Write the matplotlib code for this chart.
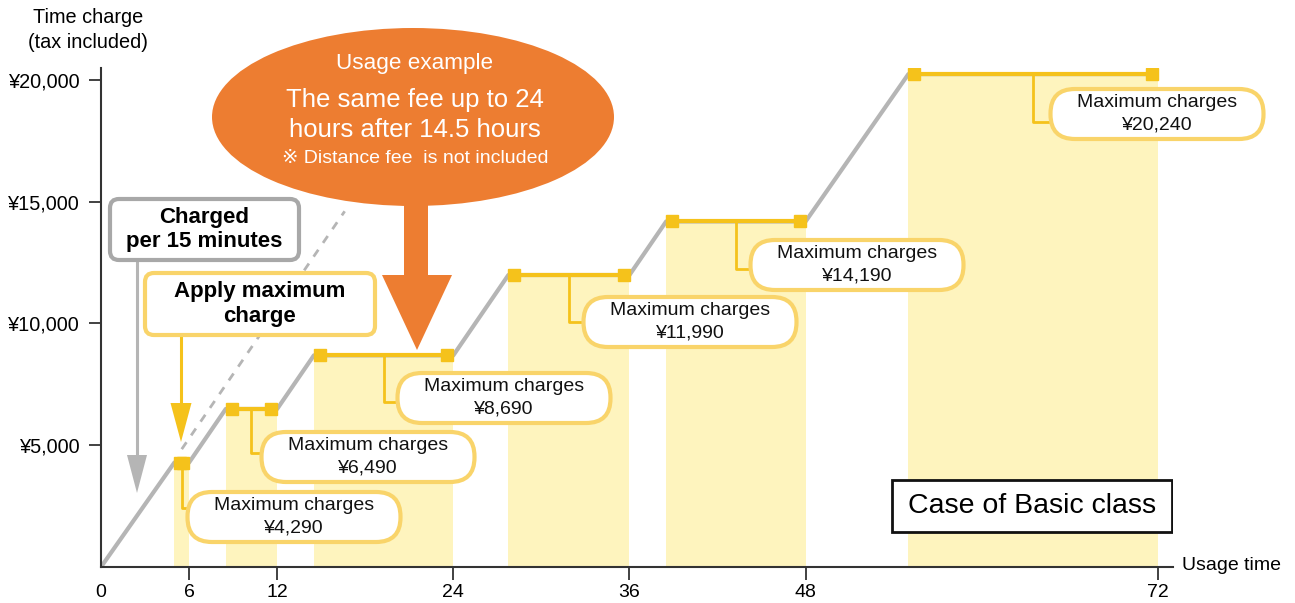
import matplotlib
matplotlib.use('Agg')
import matplotlib.pyplot as plt
from matplotlib.patches import FancyBboxPatch, Ellipse, Polygon, Rectangle
from matplotlib.transforms import ScaledTranslation

plt.rcParams['font.family'] = ['Liberation Sans', 'DejaVu Sans', 'Noto Sans CJK JP']

# ---------------- data ----------------
plateau_start_h = [5, 8.5, 14.5, 27.75, 38.5, 55]
plateau_end_h = [6, 12, 24, 36, 48, 72]
max_charges = [4290, 6490, 8690, 11990, 14190, 20240]
rate_per_hour = 880
dashed_hours = [5.5, 16.6]
x_ticks = [0, 6, 12, 24, 36, 48, 72]
x_tick_labels = ['0', '6', '12', '24', '36', '48', '72']
y_ticks = [5000, 10000, 15000, 20000]
y_tick_labels = ['¥5,000', '¥10,000', '¥15,000', '¥20,000']
box_labels = ['Maximum charges\n¥{:,}'.format(v) for v in max_charges]

# ---------------- layout (reference pixel positions of annotations) ----------------
box_center_px = [(294, 517), (368, 457), (504, 398), (690, 322), (857, 265), (1157, 114)]
elbow_py = [508, 453, 402, 322, 269, 122]
BOX_W, BOX_H = 213, 50

W, H = 1295, 603
GOLD = '#F5C21B'
BAND = '#FEF4BE'
BOXEDGE = '#F9D46A'
GRAY = '#B5B5B5'
ORANGE = '#ED7D31'

fig = plt.figure(figsize=(W / 100, H / 100), dpi=100)
ax = fig.add_axes([101 / W, 36 / H, 1071.6 / W, 499.2 / H])
ax.set_xlim(0, 73)
ax.set_ylim(0, 20500)

inv = ax.transData.inverted()


def P(px, py):
    x, y = inv.transform((px, H - py))
    return x, y


sx = ax.transData.transform((1, 0))[0] - ax.transData.transform((0, 0))[0]
sy = ax.transData.transform((0, 1))[1] - ax.transData.transform((0, 0))[1]
aspect = sx / sy

# bands
for s, e, v in zip(plateau_start_h, plateau_end_h, max_charges):
    ax.bar(s, v, width=e - s, align='edge', color=BAND, zorder=1, linewidth=0)

# gray charge path
gx, gy = [0], [0]
for s, e, v in zip(plateau_start_h, plateau_end_h, max_charges):
    gx += [s, e]
    gy += [v, v]
ax.plot(gx, gy, color=GRAY, lw=3, zorder=2, solid_capstyle='butt')

# dashed continuation
ax.plot(dashed_hours, [rate_per_hour * h for h in dashed_hours], color=GRAY, lw=2,
        ls=(0, (3, 3)), zorder=2)

# plateaus and squares
off = 5.9 / 100
for s, e, v in zip(plateau_start_h, plateau_end_h, max_charges):
    ax.plot([s, e], [v, v], color=GOLD, lw=3, zorder=3, solid_capstyle='butt')
    ax.plot([s], [v], 's', ms=8.5, color=GOLD, zorder=4,
            transform=ax.transData + ScaledTranslation(off, 0, fig.dpi_scale_trans))
    ax.plot([e], [v], 's', ms=8.5, color=GOLD, zorder=4,
            transform=ax.transData + ScaledTranslation(-off, 0, fig.dpi_scale_trans))

# callout boxes
bw = BOX_W / sx
bh = BOX_H / sy
for (cpx, cpy), epy, s, e, v, lab in zip(box_center_px, elbow_py, plateau_start_h,
                                         plateau_end_h, max_charges, box_labels):
    cx, cy = P(cpx, cpy)
    _, ey = P(cpx, epy)
    mid = (s + e) / 2
    left = cx - bw / 2
    ax.plot([mid, mid, left], [v, ey, ey], color=GOLD, lw=2, zorder=3)
    patch = FancyBboxPatch((left, cy - bh / 2), bw, bh,
                           boxstyle='round,pad=0,rounding_size={}'.format(bh / aspect / 2 * 0.98),
                           mutation_aspect=aspect, facecolor='white', edgecolor=BOXEDGE,
                           lw=3, zorder=5, clip_on=False)
    ax.add_patch(patch)
    ax.text(cx, cy, lab, ha='center', va='center', fontsize=14, linespacing=1.4,
            zorder=6, color='#111111')


def rbox(x0, y0, x1, y1, r_px, edge, lw):
    ax0, ay1 = P(x0, y0)
    ax1, ay0 = P(x1, y1)
    p = FancyBboxPatch((ax0, ay0), ax1 - ax0, ay1 - ay0,
                       boxstyle='round,pad=0,rounding_size={}'.format(r_px / sx),
                       mutation_aspect=aspect, facecolor='white', edgecolor=edge,
                       lw=lw, zorder=7, clip_on=False)
    ax.add_patch(p)


def arrow(px, y0, y1, head_y, hw, color, lw):
    xa, ya = P(px, y0)
    _, yb = P(px, head_y)
    ax.plot([xa, xa], [ya, yb], color=color, lw=lw, zorder=6, solid_capstyle='butt')
    pts = [P(px - hw, head_y), P(px + hw, head_y), P(px, y1)]
    ax.add_patch(Polygon(pts, closed=True, color=color, zorder=6, lw=0))


# gray "charged per 15 minutes"
arrow(137, 260, 493, 455, 10, GRAY, 2.2)
rbox(110, 199, 299, 260, 9, '#A8A8A8', 3)
cx, cy = P(204.5, 229.5)
ax.text(cx, cy, 'Charged\nper 15 minutes', ha='center', va='center', fontsize=16,
        fontweight='bold', linespacing=1.2, zorder=8)

# yellow "apply maximum charge"
arrow(181, 335, 442, 403, 10.5, GOLD, 2.2)
rbox(145, 273, 375, 335, 9, BOXEDGE, 3)
cx, cy = P(260, 304)
ax.text(cx, cy, 'Apply maximum\ncharge', ha='center', va='center', fontsize=16,
        fontweight='bold', linespacing=1.25, zorder=8)

# orange bubble
ecx, ecy = P(413, 117)
ax.add_patch(Ellipse((ecx, ecy), 402 / sx, 178 / sy, color=ORANGE, zorder=8, clip_on=False, lw=0))
shape = [(404, 190), (428, 190), (428, 275), (452, 275), (417, 350), (382, 275), (404, 275)]
ax.add_patch(Polygon([P(*q) for q in shape], closed=True, color=ORANGE, zorder=8,
                     clip_on=False, lw=0))
for txt, py, fs in [('Usage example', 63, 16.2), ('The same fee up to 24', 100, 18.5),
                    ('hours after 14.5 hours', 130, 18.5),
                    ('※ Distance fee  is not included', 159, 14)]:
    tx, ty = P(415, py)
    ax.text(tx, ty, txt, ha='center', va='center', fontsize=fs, color='white', zorder=9,
            clip_on=False)

# Case of Basic class
bx0, by0 = P(892, 532)
bx1, by1 = P(1172, 480)
ax.add_patch(Rectangle((bx0, by0), bx1 - bx0, by1 - by0, facecolor='white',
                       edgecolor='#111111', lw=2, zorder=7))
cx, cy = P(1032, 506)
ax.text(cx, cy, 'Case of Basic class', ha='center', va='center', fontsize=20.5, zorder=8)

# axes styling
for sp in ['top', 'right']:
    ax.spines[sp].set_visible(False)
for sp in ['left', 'bottom']:
    ax.spines[sp].set_color('#333333')
    ax.spines[sp].set_linewidth(1.5)
    ax.spines[sp].set_zorder(10)
ax.set_xticks(x_ticks)
ax.set_xticklabels(x_tick_labels, fontsize=14)
ax.set_yticks(y_ticks)
ax.set_yticklabels(y_tick_labels, fontsize=14.3)
ax.tick_params(axis='both', direction='out', length=9, width=1.3, color='#333333')
ax.tick_params(axis='y', pad=6)
ax.tick_params(axis='x', pad=3)
ax.xaxis.get_major_ticks()[0].tick1line.set_visible(False)

fig.text(1182 / W, 1 - 566 / H, 'Usage time', ha='left', va='center', fontsize=14)
fig.text(88 / W, 1 - 30 / H, 'Time charge\n(tax included)', ha='center', va='center',
         fontsize=14.3, linespacing=1.4)

fig.savefig('out.png', dpi=100)
